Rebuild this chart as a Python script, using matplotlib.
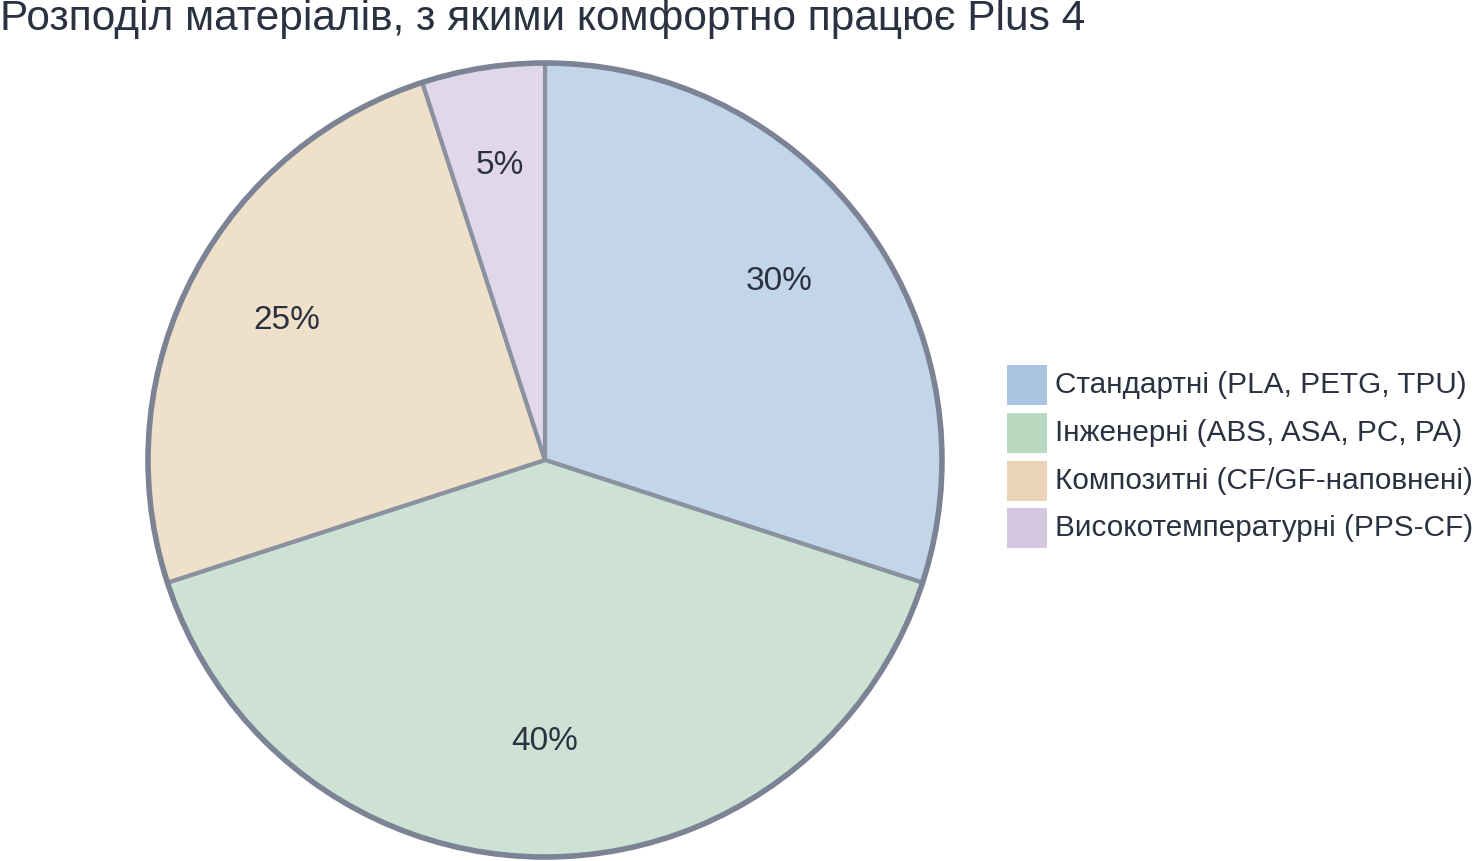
import matplotlib
matplotlib.use("Agg")
import matplotlib.pyplot as plt
from matplotlib.patches import Circle, Rectangle

plt.rcParams['font.family'] = ['Liberation Sans', 'DejaVu Sans']

title = "Розподіл матеріалів, з якими комфортно працює Plus 4"
categories = ["Стандартні (PLA, PETG, TPU)",
              "Інженерні (ABS, ASA, PC, PA)",
              "Композитні (CF/GF-наповнені)",
              "Високотемпературні (PPS-CF)"]
values = [30, 40, 25, 5]
legend_colors = ["#a8c4e0", "#b8d8c0", "#ecd4b8", "#d4c8e0"]
wedge_colors = ["#c3d5e9", "#cde2d4", "#efe0c9", "#e0d8ea"]
text_color = "#2b3140"

W, H = 1475, 861
fig = plt.figure(figsize=(W / 100, H / 100), dpi=100)
cx, cy, r = 545, 460, 397
ax = fig.add_axes([(cx - r) / W, (H - cy - r) / H, 2 * r / W, 2 * r / H])
ax.axis('off')

wedges, texts, autotexts = ax.pie(
    values, colors=wedge_colors, startangle=90, counterclock=False,
    radius=1, autopct='%d%%', pctdistance=0.73,
    wedgeprops=dict(edgecolor="#8a919f", linewidth=3, clip_on=False),
    textprops=dict(fontsize=24, color=text_color))
ax.set_xlim(-1.0, 1.0)
ax.set_ylim(-1.0, 1.0)
ax.add_patch(Circle((0, 0), 1, fill=False, edgecolor="#7b8394", linewidth=4,
                    zorder=5, clip_on=False))
for t in autotexts:
    x, y = t.get_position()
    t.set_position((x, y + 0.02))

fig.text(0, 1 - 19 / H, title, fontsize=30.5, color=text_color, ha='left', va='center')

# legend
box = 40
ys = [385, 433, 481, 528]
for y, lab, col in zip(ys, categories, legend_colors):
    fig.patches.append(Rectangle((1007 / W, (H - y - box / 2) / H), box / W, box / H,
                                 transform=fig.transFigure, facecolor=col, edgecolor='none'))
    fig.text(1055 / W, 1 - y / H, lab, fontsize=21.4, color=text_color, ha='left', va='center')

fig.savefig("out.png", dpi=100)
